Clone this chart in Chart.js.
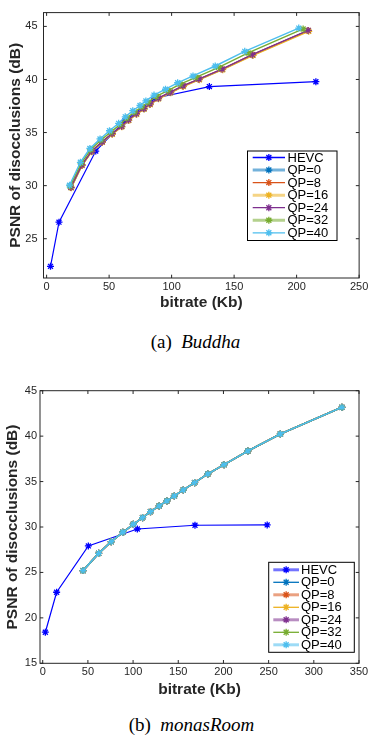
<!DOCTYPE html>
<html>
<head>
<meta charset="utf-8">
<script src="https://cdn.jsdelivr.net/npm/chart.js@4.4.1/dist/chart.umd.min.js"></script>
<style>
    body { margin: 0; background: #fff; width: 371px; height: 738px; position: relative; overflow: hidden; }
    canvas { position: absolute; left: 0; }
    #buddhaChart { top: 0; }
    #monasChart { top: 370px; }
    .caption {
        position: absolute; width: 371px; text-align: center;
        font-family: 'Liberation Serif', 'DejaVu Serif', serif; font-size: 19px; line-height: 22px; color: #000;
    }
</style>
</head>
<body>
<canvas id="buddhaChart" width="371" height="312"></canvas>
<div class="caption" style="top: 331px; left: 10px;">(a)&nbsp;&nbsp;<i>Buddha</i></div>
<canvas id="monasChart" width="371" height="329"></canvas>
<div class="caption" style="top: 714px; left: 6px;">(b)&nbsp;&nbsp;<i>monasRoom</i></div>

<script>
// Legenda / séries
const seriesLabels = ['HEVC', 'QP=0', 'QP=8', 'QP=16', 'QP=24', 'QP=32', 'QP=40'];

// (a) Buddha - bitrate (Kb) / PSNR (dB)
const buddhaHevcRate = [3.1, 9.9, 39.3, 62.5, 86.5, 130.2, 215.4];
const buddhaHevcPsnr = [22.4, 26.56, 33.26, 36.1, 38.23, 39.33, 39.79];
const buddhaQp0Rate = [19.6, 28.3, 36.1, 44.5, 52.5, 60.1, 65.6, 71.9, 77.9, 82.8, 89.5, 99.2, 109.3, 122.1, 140.7, 164.9, 209.4];
const buddhaQp0Psnr = [29.82, 31.93, 33.22, 34.10, 34.87, 35.57, 36.17, 36.75, 37.24, 37.67, 38.21, 38.77, 39.37, 40.01, 40.95, 42.31, 44.60];
const buddhaQp8Rate = [19.5, 28.2, 36.0, 44.4, 52.4, 60.0, 65.5, 71.8, 77.8, 82.7, 89.4, 99.0, 109.1, 121.9, 140.5, 164.7, 209.3];
const buddhaQp8Psnr = [29.84, 31.94, 33.24, 34.12, 34.89, 35.59, 36.19, 36.77, 37.26, 37.69, 38.23, 38.79, 39.39, 40.03, 40.97, 42.33, 44.61];
const buddhaQp16Rate = [19.7, 28.4, 36.2, 44.6, 52.6, 60.2, 65.7, 72.0, 78.0, 82.9, 89.6, 99.3, 109.4, 122.3, 140.9, 165.2, 209.7];
const buddhaQp16Psnr = [29.80, 31.90, 33.20, 34.08, 34.84, 35.54, 36.14, 36.72, 37.21, 37.64, 38.18, 38.74, 39.34, 39.98, 40.92, 42.28, 44.54];
const buddhaQp24Rate = [19.4, 28.2, 36.0, 44.4, 52.3, 59.9, 65.4, 71.7, 77.7, 82.6, 89.3, 98.9, 109.0, 121.8, 140.3, 164.5, 209.1];
const buddhaQp24Psnr = [29.85, 31.95, 33.25, 34.13, 34.90, 35.60, 36.20, 36.78, 37.27, 37.70, 38.24, 38.80, 39.40, 40.04, 40.98, 42.34, 44.62];
const buddhaQp32Rate = [18.8, 27.6, 35.3, 43.5, 51.3, 58.7, 64.1, 70.2, 76.2, 81.0, 87.6, 97.0, 106.9, 119.4, 137.6, 161.2, 205.2];
const buddhaQp32Psnr = [29.97, 32.10, 33.40, 34.29, 35.05, 35.75, 36.36, 36.93, 37.42, 37.85, 38.40, 38.95, 39.56, 40.20, 41.14, 42.50, 44.76];
const buddhaQp40Rate = [18.3, 27.0, 34.6, 42.7, 50.3, 57.6, 62.9, 68.9, 74.7, 79.4, 85.9, 95.1, 104.8, 117.1, 134.9, 158.5, 201.7];
const buddhaQp40Psnr = [30.04, 32.20, 33.50, 34.40, 35.17, 35.87, 36.48, 37.06, 37.55, 37.98, 38.53, 39.08, 39.69, 40.33, 41.27, 42.65, 44.84];
const buddhaXTicks = [0, 50, 100, 150, 200, 250];
const buddhaYTicks = [25, 30, 35, 40, 45];

// (b) monasRoom - as curvas QP se sobrepõem
const monasHevcRate = [2.9, 15.4, 50.5, 104.7, 168.5, 248.4];
const monasHevcPsnr = [18.42, 22.82, 27.92, 29.78, 30.19, 30.23];
const monasQpRate = [44.6, 61.9, 75.8, 88.6, 100.3, 110.5, 119.3, 128.9, 137.4, 145.7, 155.6, 168.1, 182.7, 200.7, 227.0, 263.0, 331.1];
const monasQpPsnr = [25.20, 27.10, 28.39, 29.42, 30.30, 31.03, 31.69, 32.32, 32.87, 33.42, 34.08, 34.88, 35.84, 36.86, 38.37, 40.24, 43.17];
const monasXTicks = [0, 50, 100, 150, 200, 250, 300, 350];
const monasYTicks = [15, 20, 25, 30, 35, 40, 45];

// cores padrão do MATLAB
const seriesColors = ['#0000FF', '#0072BD', '#D95319', '#EDB120', '#7E2F8E', '#77AC30', '#4DBEEE'];
const axisColor = '#262626';

function toPoints(rates, psnrs) {
    return rates.map((x, i) => ({ x: x, y: psnrs[i] }));
}

function makeDataset(index, rates, psnrs, width) {
    const color = seriesColors[index];
    return {
        label: seriesLabels[index],
        data: toPoints(rates, psnrs),
        borderColor: color,
        backgroundColor: color,
        borderWidth: width,
        pointStyle: 'star',
        pointRadius: 3.5,
        pointBorderColor: color,
        pointBorderWidth: 1.3,
        tension: 0,
        fill: false,
        order: seriesLabels.length - 1 - index
    };
}

// Caixa do gráfico com ticks para dentro (estilo MATLAB)
const matlabFrame = {
    id: 'matlabFrame',
    afterDatasetsDraw(chart) {
        const { ctx, chartArea: a, scales } = chart;
        const len = 3.3;
        ctx.save();
        ctx.strokeStyle = axisColor;
        ctx.lineWidth = 1;
        ctx.strokeRect(a.left, a.top, a.right - a.left, a.bottom - a.top);
        ctx.beginPath();
        scales.x.ticks.forEach(t => {
            const px = scales.x.getPixelForValue(t.value);
            ctx.moveTo(px, a.bottom); ctx.lineTo(px, a.bottom - len);
            ctx.moveTo(px, a.top); ctx.lineTo(px, a.top + len);
        });
        scales.y.ticks.forEach(t => {
            const py = scales.y.getPixelForValue(t.value);
            ctx.moveTo(a.left, py); ctx.lineTo(a.left + len, py);
            ctx.moveTo(a.right, py); ctx.lineTo(a.right - len, py);
        });
        ctx.stroke();
        ctx.restore();
    }
};

// Legenda dentro da área do gráfico
const boxLegend = {
    id: 'boxLegend',
    afterDraw(chart, args, o) {
        const ctx = chart.ctx;
        ctx.save();
        ctx.fillStyle = '#fff';
        ctx.fillRect(o.left, o.top, o.width, o.height);
        ctx.strokeStyle = '#000';
        ctx.lineWidth = 1;
        ctx.strokeRect(o.left, o.top, o.width, o.height);
        ctx.font = '13px "Liberation Sans", Arial, sans-serif';
        ctx.textBaseline = 'middle';
        chart.data.datasets.forEach((ds, i) => {
            const y = o.firstRow + i * o.rowGap;
            const mid = (o.lineStart + o.lineEnd) / 2;
            ctx.strokeStyle = ds.borderColor;
            ctx.globalAlpha = o.wide[i] ? 0.55 : 1;
            ctx.lineWidth = o.wide[i] ? 3 : 1.3;
            ctx.beginPath();
            ctx.moveTo(o.lineStart, y); ctx.lineTo(o.lineEnd, y);
            ctx.stroke();
            ctx.globalAlpha = 1;
            ctx.lineWidth = 1.3;
            const r = 3.5, d = r * Math.SQRT1_2;
            ctx.beginPath();
            ctx.moveTo(mid - r, y); ctx.lineTo(mid + r, y);
            ctx.moveTo(mid, y - r); ctx.lineTo(mid, y + r);
            ctx.moveTo(mid - d, y - d); ctx.lineTo(mid + d, y + d);
            ctx.moveTo(mid - d, y + d); ctx.lineTo(mid + d, y - d);
            ctx.stroke();
            ctx.fillStyle = '#000';
            ctx.fillText(ds.label, o.textX, y + 0.5);
        });
        ctx.restore();
    }
};

function makeChart(canvasId, datasets, s) {
    new Chart(document.getElementById(canvasId).getContext('2d'), {
        type: 'line',
        data: { datasets: datasets },
        plugins: [matlabFrame, boxLegend],
        options: {
            responsive: false,
            animation: false,
            devicePixelRatio: 1,
            layout: { padding: s.padding },
            plugins: {
                legend: { display: false },
                tooltip: { enabled: false },
                boxLegend: s.legend
            },
            scales: {
                x: {
                    type: 'linear',
                    min: s.xMin,
                    max: s.xMax,
                    afterBuildTicks: scale => { scale.ticks = s.xTicks.map(v => ({ value: v })); },
                    afterFit: scale => { scale.height = s.xHeight; },
                    grid: { display: false, drawTicks: false },
                    border: { display: false },
                    ticks: {
                        color: axisColor,
                        padding: s.xTickPad,
                        maxRotation: 0,
                        font: { family: '"Liberation Sans", Arial, sans-serif', size: 11 }
                    },
                    title: {
                        display: true,
                        text: 'bitrate (Kb)',
                        color: axisColor,
                        padding: { top: 0, bottom: 0 },
                        font: { family: '"Liberation Sans", Arial, sans-serif', size: 15.5, weight: 'bold' }
                    }
                },
                y: {
                    type: 'linear',
                    min: s.yMin,
                    max: s.yMax,
                    afterBuildTicks: scale => { scale.ticks = s.yTicks.map(v => ({ value: v })); },
                    afterFit: scale => { scale.width = s.yWidth; },
                    grid: { display: false, drawTicks: false },
                    border: { display: false },
                    ticks: {
                        color: axisColor,
                        padding: s.yTickPad,
                        font: { family: '"Liberation Sans", Arial, sans-serif', size: 11 }
                    },
                    title: {
                        display: true,
                        text: 'PSNR of disocclusions (dB)',
                        color: axisColor,
                        padding: { top: s.yTitlePad, bottom: 0 },
                        font: { family: '"Liberation Sans", Arial, sans-serif', size: 15.5, weight: 'bold' }
                    }
                }
            }
        }
    });
}

// (a) Buddha
makeChart('buddhaChart', [
    makeDataset(0, buddhaHevcRate, buddhaHevcPsnr, 1.2),
    makeDataset(1, buddhaQp0Rate, buddhaQp0Psnr, 1.4),
    makeDataset(2, buddhaQp8Rate, buddhaQp8Psnr, 1.4),
    makeDataset(3, buddhaQp16Rate, buddhaQp16Psnr, 1.4),
    makeDataset(4, buddhaQp24Rate, buddhaQp24Psnr, 1.4),
    makeDataset(5, buddhaQp32Rate, buddhaQp32Psnr, 1.4),
    makeDataset(6, buddhaQp40Rate, buddhaQp40Psnr, 1.4)
], {
    padding: { top: 5.5, right: 9, bottom: 0, left: 0 },
    xMin: -2.5, xMax: 250, xTicks: buddhaXTicks, xHeight: 34, xTickPad: 2.7,
    yMin: 21.3, yMax: 46.3, yTicks: buddhaYTicks, yWidth: 43.5, yTickPad: 6, yTitlePad: 6.5,
    legend: {
        left: 247.5, top: 151, width: 89.5, height: 89.5,
        firstRow: 157.5, rowGap: 12.55, lineStart: 252.7, lineEnd: 285, textX: 287.5,
        wide: [false, true, false, true, false, true, false]
    }
});

// (b) monasRoom
makeChart('monasChart', [
    makeDataset(0, monasHevcRate, monasHevcPsnr, 1.2),
    makeDataset(1, monasQpRate, monasQpPsnr, 1.6),
    makeDataset(2, monasQpRate, monasQpPsnr, 1.6),
    makeDataset(3, monasQpRate, monasQpPsnr, 1.6),
    makeDataset(4, monasQpRate, monasQpPsnr, 1.6),
    makeDataset(5, monasQpRate, monasQpPsnr, 1.6),
    makeDataset(6, monasQpRate, monasQpPsnr, 1.6)
], {
    padding: { top: 20.7, right: 12, bottom: 0, left: 0 },
    xMin: -3, xMax: 350, xTicks: monasXTicks, xHeight: 35.7, xTickPad: 1.8,
    yMin: 15, yMax: 45, yTicks: monasYTicks, yWidth: 40, yTickPad: 3, yTitlePad: 3.2,
    legend: {
        left: 268.7, top: 192.3, width: 85.6, height: 90,
        firstRow: 199.8, rowGap: 12.5, lineStart: 273.3, lineEnd: 299, textX: 301,
        wide: [true, false, true, false, true, false, true]
    }
});
</script>
</body>
</html>
